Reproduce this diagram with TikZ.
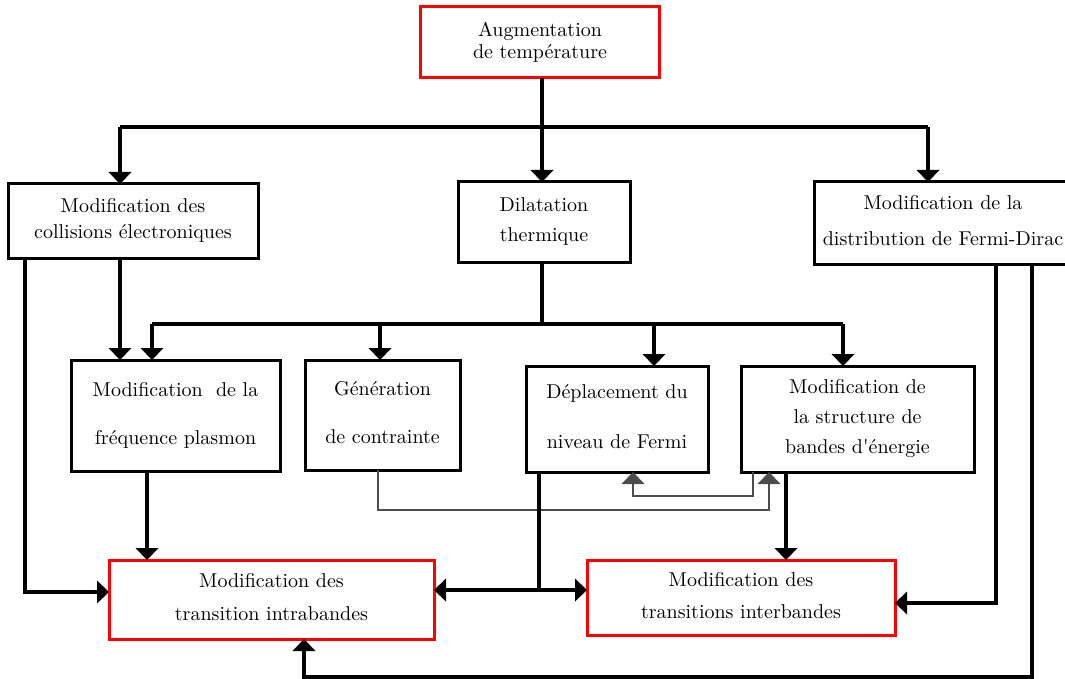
\documentclass[tikz,border=0pt]{standalone}
\usetikzlibrary{arrows.meta}
\newcommand{\boxtxt}[1]{\scalebox{2}{\begin{tabular}{@{}c@{}}#1\end{tabular}}}
\begin{document}
\begin{tikzpicture}[x=1pt,y=-1pt,
  box/.style={draw=black, line width=3pt, rectangle, inner sep=2pt, outer sep=0pt, fill=white, font=\fontsize{10}{12}\selectfont},
  redbox/.style={box, draw=red},
  con/.style={line width=3.2pt, draw=black},
  fine/.style={line width=1.2pt, draw=black!70},
  >={Triangle[width=23pt,length=12pt,line width=0pt]}]
\clip (0,0) rectangle (1065,679);
\fill[white] (0,0) rectangle (1065,679);

% boxes
\node[redbox, minimum width=239pt, minimum height=71pt] (aug) at (540,42.5) {\boxtxt{Augmentation\\[-1pt]de température}};
\node[box, minimum width=250pt, minimum height=74pt] (col) at (133,221) {\boxtxt{Modification des\\[1pt]collisions électroniques}};
\node[box, minimum width=172pt, minimum height=80pt] (dil) at (544,222) {\boxtxt{Dilatation\\[3pt]thermique}};
\node[box, minimum width=258pt, minimum height=82pt] (fd) at (943,223) {\boxtxt{Modification de la\\[6pt]distribution de Fermi-Dirac}};
\node[box, minimum width=209pt, minimum height=111pt] (pla) at (175.5,415.5) {\boxtxt{Modification~ de la\\[12pt]fréquence plasmon}};
\node[box, minimum width=155pt, minimum height=110pt] (gen) at (382.5,415) {\boxtxt{Génération\\[12pt]de contrainte}};
\node[box, minimum width=182pt, minimum height=106pt] (dep) at (617,419) {\boxtxt{Déplacement du\\[13pt]niveau de Fermi}};
\node[box, minimum width=233pt, minimum height=106pt] (str) at (857.5,419) {\boxtxt{Modification de\\[3pt]la structure de\\[3pt]bandes d\textquotesingle énergie}};
\node[redbox, minimum width=325pt, minimum height=79pt] (intra) at (271.5,599.5) {\boxtxt{Modification des\\[4.5pt]transition intrabandes}};
\node[redbox, minimum width=308pt, minimum height=75pt] (inter) at (741,597.5) {\boxtxt{Modification des\\[4pt]transitions interbandes}};

% helper coordinates
\coordinate (bA) at (542,127);
\coordinate (bL) at (120,127);
\coordinate (bR) at (928,127);
\coordinate (cl) at (25,592);
\coordinate (dB) at (542,324);
\coordinate (dL) at (152,324);
\coordinate (dR) at (843,324);
\coordinate (g1) at (380,324);
\coordinate (g2) at (654,324);
\coordinate (pi) at (147,500);
\coordinate (t1) at (378,510);
\coordinate (t2) at (769,510);
\coordinate (t3) at (753,496);
\coordinate (t4) at (633,496);
\coordinate (dj) at (539,590);
\coordinate (si) at (786,500);
\coordinate (f1) at (996,603);
\coordinate (f2) at (1032,677);
\coordinate (f3) at (304,677);

% top bus
\draw[con] (aug.south -| bA) -- (bA);
\draw[con] (bL) -- (bR);
\draw[con,->] (bA) -- (bA |- dil.north);
\draw[con,->] (bL) -- (bL |- col.north);
\draw[con,->] (bR) -- (bR |- fd.north);

% collisions
\draw[con,->] (col.south -| cl) -- (cl) -- (intra.west |- cl);
\draw[con,->] (col.south -| bL) -- (pla.north -| bL);

% dilatation bus
\draw[con] (dil.south -| dB) -- (dB);
\draw[con] (dL) -- (dR);
\draw[con,->] (dL) -- (dL |- pla.north);
\draw[con,->] (g1) -- (g1 |- gen.north);
\draw[con,->] (g2) -- (g2 |- dep.north);
\draw[con,->] (dR) -- (dR |- str.north);

% plasmon -> intra
\draw[con,->] (pla.south -| pi) -- (intra.north -| pi);

% thin links
\draw[fine,->] (gen.south -| t1) -- (t1) -- (t2) -- (t2 |- str.south);
\draw[fine,->] (str.south -| t3) -- (t3) -- (t4) -- (t4 |- dep.south);

% fermi level -> both
\draw[con] (dep.south -| dj) -- (dj);
\draw[con,<->] (intra.east |- dj) -- (inter.west |- dj);

% structure -> inter
\draw[con,->] (str.south -| si) -- (inter.north -| si);

% Fermi-Dirac -> inter and intra
\draw[con,->] (fd.south -| f1) -- (f1) -- (inter.east |- f1);
\draw[con,->] (fd.south -| f2) -- (f2) -- (f3) -- (f3 |- intra.south);
\end{tikzpicture}
\end{document}
